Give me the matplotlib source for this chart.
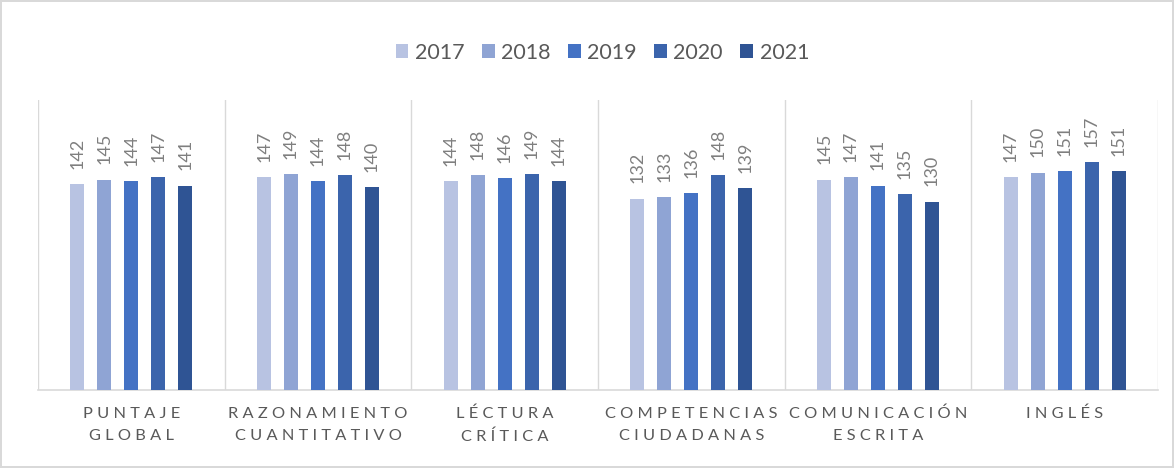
import matplotlib
matplotlib.use("Agg")
import matplotlib.pyplot as plt
import numpy as np

plt.rcParams['font.family'] = ['Lato', 'DejaVu Sans']

# data
categories = ["PUNTAJE\nGLOBAL", "RAZONAMIENTO\nCUANTITATIVO", "LÉCTURA\nCRÍTICA",
              "COMPETENCIAS\nCIUDADANAS", "COMUNICACIÓN\nESCRITA", "INGLÉS"]
years = ["2017", "2018", "2019", "2020", "2021"]
v2017 = [142, 147, 144, 132, 145, 147]
v2018 = [145, 149, 148, 133, 147, 150]
v2019 = [144, 144, 146, 136, 141, 151]
v2020 = [147, 148, 149, 148, 135, 157]
v2021 = [141, 140, 144, 139, 130, 151]
series = [v2017, v2018, v2019, v2020, v2021]
colors = ["#B8C3E2", "#8FA4D4", "#4472C4", "#3B64AC", "#2F5494"]


def spaced(txt):
    # wide letter spacing like the original
    return "\n".join(" ".join(line) for line in txt.split("\n"))


fig = plt.figure(figsize=(11.74, 4.68), dpi=100)
fig.patch.set_edgecolor("#D9D9D9")
fig.patch.set_linewidth(1.5)
ax = fig.add_axes([38 / 1174, 78 / 468, 1120 / 1174, 290 / 468])

x = np.arange(len(categories))
pitch = 0.1446
width = 0.075
for i, (vals, yr, c) in enumerate(zip(series, years, colors)):
    pos = x + (i - 2) * pitch
    bars = ax.bar(pos, vals, width, color=c, label=yr, zorder=3)
    for b, v in zip(bars, vals):
        ax.annotate(str(v), (b.get_x() + b.get_width() / 2, v), xytext=(0, 11),
                    textcoords="offset points", rotation=90, ha="center", va="bottom",
                    fontsize=13, color="#7F7F7F")

ax.set_xlim(-0.5, len(categories) - 0.5)
ax.set_ylim(0, 200)
ax.set_yticks([])
ax.set_xticks(x)
ax.set_xticklabels([spaced(c) for c in categories], fontsize=11.8, color="#595959",
                   linespacing=1.75)
ax.tick_params(axis="x", length=0, pad=12)
for b in np.arange(-0.5, len(categories), 1.0):
    ax.axvline(b, color="#D9D9D9", lw=1, zorder=1)
for s in ["top", "right", "left"]:
    ax.spines[s].set_visible(False)
ax.spines["bottom"].set_color("#D9D9D9")
ax.spines["bottom"].set_linewidth(1.2)

fig.legend(loc="upper center", bbox_to_anchor=(0.513, 0.95), ncol=5, frameon=False,
           fontsize=15.5, labelcolor="#595959", handlelength=0.6, handleheight=0.6,
           handletextpad=0.3, columnspacing=0.8)

fig.savefig("out.png", dpi=100)
